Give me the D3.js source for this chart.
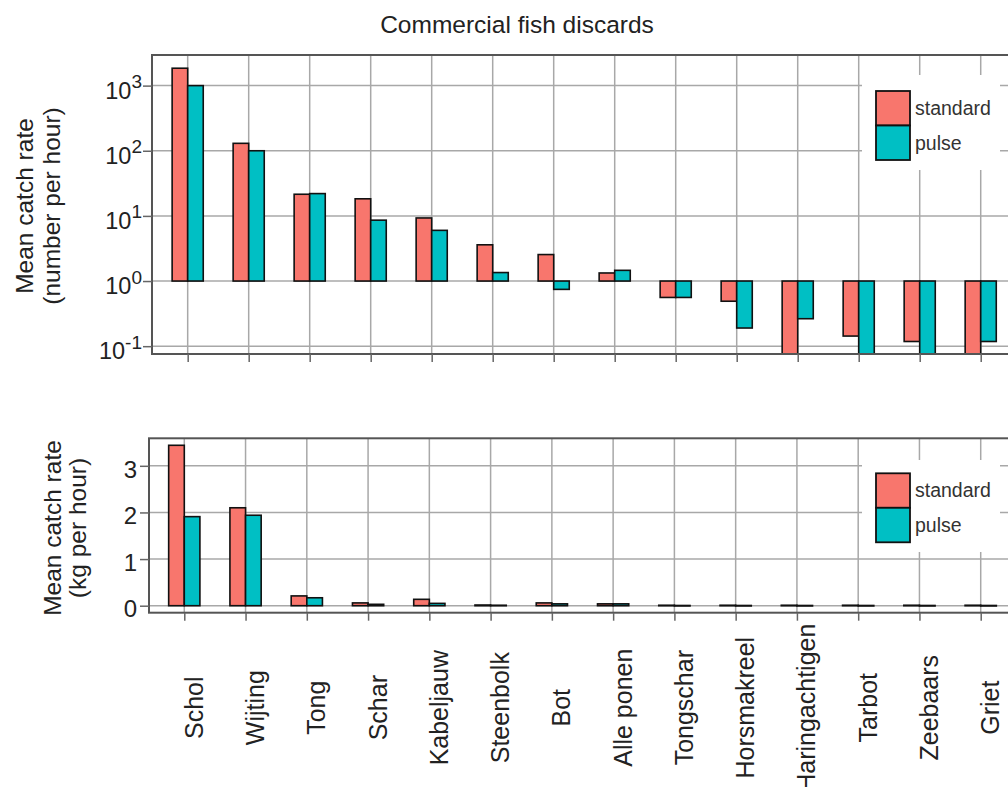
<!DOCTYPE html>
<html>
<head>
<meta charset="utf-8">
<script src="https://cdn.jsdelivr.net/npm/d3@7"></script>
<style>
  body { margin: 0; background: #fff; }
  svg { display: block; font-family: "Liberation Sans", Arial, Helvetica, sans-serif; }
</style>
</head>
<body>
<svg id="chart" width="1008" height="787"></svg>
<script>
// ---- data ----
const categories = ["Schol","Wijting","Tong","Schar","Kabeljauw","Steenbolk","Bot","Alle ponen","Tongschar","Horsmakreel","Haringachtigen","Tarbot","Zeebaars","Griet"];
const seriesNames = ["standard","pulse"];
const countStandard = [1850, 130, 21.5, 18.3, 9.3, 3.6, 2.55, 1.33, 0.56, 0.49, 0.05, 0.143, 0.118, 0.05];
const countPulse    = [1000, 100, 22, 8.6, 6.0, 1.35, 0.745, 1.46, 0.56, 0.19, 0.264, 0.05, 0.05, 0.118];
const weightStandard = [3.44, 2.10, 0.21, 0.06, 0.137, 0.015, 0.06, 0.04, 0.01, 0.01, 0.01, 0.01, 0.01, 0.01];
const weightPulse    = [1.91, 1.94, 0.17, 0.03, 0.05, 0.01, 0.04, 0.04, 0.005, 0.005, 0.005, 0.005, 0.005, 0.005];
const logTicks = [0.1, 1, 10, 100, 1000];
const logTickExp = ["-1", "0", "1", "2", "3"];
const linTicks = [0, 1, 2, 3];

const colors = ["#F8766D", "#00BFC4"];
const gridColor = "#a8a8a8";
const frameColor = "#555";

const svg = d3.select("#chart");

// Title
svg.append("text").attr("x", 517).attr("y", 33).attr("text-anchor", "middle")
  .attr("font-size", 24.5).attr("fill", "#222").text("Commercial fish discards");

function panel(opts) {
  const { left, right, top, bottom, x, y, values, baseline, clipId, legendBox } = opts;
  const g = svg.append("g");

  // grid
  g.append("g").selectAll("line.h").data(opts.yTicks).join("line")
    .attr("x1", left).attr("x2", right)
    .attr("y1", d => y(d)).attr("y2", d => y(d))
    .attr("stroke", gridColor).attr("stroke-width", 1.5);
  g.append("g").selectAll("line.v").data(categories).join("line")
    .attr("x1", d => x(d)).attr("x2", d => x(d))
    .attr("y1", top).attr("y2", bottom)
    .attr("stroke", gridColor).attr("stroke-width", 1.5);

  // bars
  g.append("clipPath").attr("id", clipId).append("rect")
    .attr("x", left).attr("y", top).attr("width", right - left).attr("height", bottom - top);
  const bw = x.step() * 0.255;
  const bars = g.append("g").attr("clip-path", `url(#${clipId})`);
  values.forEach((vals, s) => {
    bars.selectAll(null).data(vals.map((v, i) => ({ v, c: categories[i] }))).join("rect")
      .attr("x", d => s === 0 ? x(d.c) - bw : x(d.c))
      .attr("width", bw)
      .attr("y", d => Math.min(y(d.v), y(baseline)))
      .attr("height", d => Math.max(Math.abs(y(d.v) - y(baseline)), 0.5))
      .attr("fill", colors[s]).attr("stroke", "#111").attr("stroke-width", 1.6);
  });

  // legend
  const lg = g.append("g");
  lg.append("rect").attr("x", legendBox.x0).attr("y", legendBox.y0)
    .attr("width", legendBox.x1 - legendBox.x0).attr("height", legendBox.y1 - legendBox.y0)
    .attr("fill", "#fff");
  seriesNames.forEach((n, s) => {
    const ky = legendBox.ky + s * 34.5;
    lg.append("rect").attr("x", 876).attr("y", ky).attr("width", 34).attr("height", 34.5)
      .attr("fill", colors[s]).attr("stroke", "#111").attr("stroke-width", 1.8);
    lg.append("text").attr("x", 915).attr("y", ky + 17).attr("dy", "0.36em")
      .attr("font-size", 19.5).attr("fill", "#333").text(n);
  });

  // frame
  g.append("rect").attr("x", left).attr("y", top).attr("width", right - left).attr("height", bottom - top)
    .attr("fill", "none").attr("stroke", frameColor).attr("stroke-width", 2);

  // x axis ticks
  const xa = g.append("g").attr("transform", `translate(0,${bottom})`)
    .call(d3.axisBottom(x).tickSize(8).tickFormat(""));
  xa.select(".domain").remove();
  xa.selectAll(".tick line").attr("stroke", "#666").attr("stroke-width", 1.5);

  // y axis ticks
  const ya = g.append("g").attr("transform", `translate(${left},0)`)
    .call(d3.axisLeft(y).tickValues(opts.yTicks).tickSize(9).tickFormat(""));
  ya.select(".domain").remove();
  ya.selectAll(".tick line").attr("stroke", "#666").attr("stroke-width", 1.5);
  return { g, ya, xa };
}

// ---- top panel (log) ----
const topL = 152, topR = 1016.4, topT = 55, topB = 354;
const xTop = d3.scalePoint().domain(categories).range([topL, topR]).padding(0.585);
const yTop = d3.scaleLog().domain([Math.pow(10, -1.12), Math.pow(10, 3.47)]).range([topB, topT]);
const p1 = panel({ left: topL, right: topR, top: topT, bottom: topB, x: xTop, y: yTop,
  values: [countStandard, countPulse], baseline: 1, clipId: "clipTop", yTicks: logTicks,
  legendBox: { x0: 862, x1: 1000, y0: 75, y1: 170, ky: 91 } });
p1.ya.selectAll(".tick").each(function(d, i) {
  const t = d3.select(this).append("text").attr("x", -10).attr("y", 12.6)
    .attr("text-anchor", "end").attr("fill", "#222").attr("font-size", 23.5);
  t.append("tspan").text("10");
  t.append("tspan").attr("dy", -10.6).attr("font-size", 19).text(logTickExp[logTicks.indexOf(d)]);
});
svg.append("text").attr("transform", "translate(33,206) rotate(-90)").attr("text-anchor", "middle")
  .attr("font-size", 24.5).attr("fill", "#222").text("Mean catch rate");
svg.append("text").attr("transform", "translate(60,206) rotate(-90)").attr("text-anchor", "middle")
  .attr("font-size", 24.5).attr("fill", "#222").text("(number per hour)");

// ---- bottom panel (linear) ----
const botL = 149, botR = 1016, botT = 438.3, botB = 612.7;
const xBot = d3.scalePoint().domain(categories).range([botL, botR]).padding(0.576);
const yBot = d3.scaleLinear().domain([-0.15, 3.59]).range([botB, botT]);
const p2 = panel({ left: botL, right: botR, top: botT, bottom: botB, x: xBot, y: yBot,
  values: [weightStandard, weightPulse], baseline: 0, clipId: "clipBot", yTicks: linTicks,
  legendBox: { x0: 862, x1: 1000, y0: 460, y1: 552, ky: 473.3 } });
p2.ya.selectAll(".tick").append("text").attr("x", -12).attr("dy", "0.47em")
  .attr("text-anchor", "end").attr("fill", "#222").attr("font-size", 24).text(d => d);
svg.append("text").attr("transform", "translate(61,528) rotate(-90)").attr("text-anchor", "middle")
  .attr("font-size", 24.5).attr("fill", "#222").text("Mean catch rate");
svg.append("text").attr("transform", "translate(86,528) rotate(-90)").attr("text-anchor", "middle")
  .attr("font-size", 24.5).attr("fill", "#222").text("(kg per hour)");

// category labels
p2.xa.selectAll(".tick").append("text")
  .attr("transform", "translate(18,95) rotate(-90)")
  .attr("text-anchor", "middle").attr("fill", "#222").attr("font-size", 25)
  .text(d => d);
</script>
</body>
</html>
